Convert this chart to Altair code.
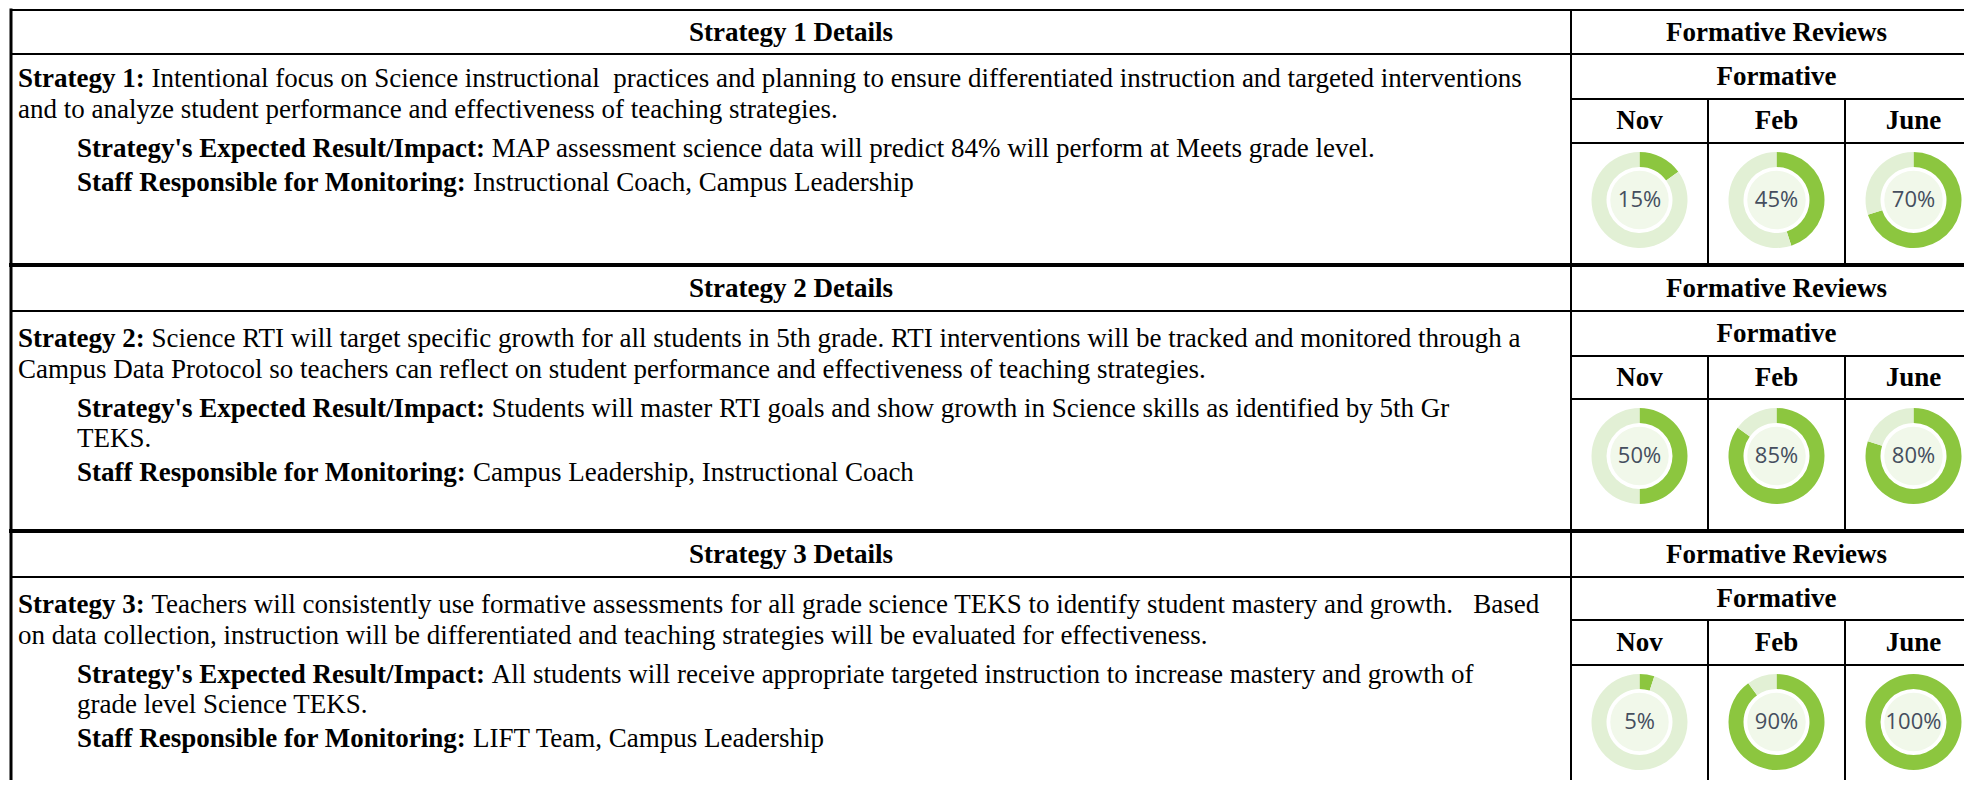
import math
import altair as alt
import pandas as pd

# ---------------- data ----------------
section_titles = ["Strategy 1 Details", "Strategy 2 Details", "Strategy 3 Details"]
review_title = "Formative Reviews"
review_sub = "Formative"
months = ["Nov", "Feb", "June"]

strategy_labels = ["Strategy 1:", "Strategy 2:", "Strategy 3:"]
strategy_text = [
    ["Intentional focus on Science instructional\u00a0 practices and planning to ensure differentiated instruction and targeted interventions",
     "and to analyze student performance and effectiveness of teaching strategies."],
    ["Science RTI will target specific growth for all students in 5th grade. RTI interventions will be tracked and monitored through a",
     "Campus Data Protocol so teachers can reflect on student performance and effectiveness of teaching strategies."],
    ["Teachers will consistently use formative assessments for all grade science TEKS to identify student mastery and growth.\u00a0\u00a0 Based",
     "on data collection, instruction will be differentiated and teaching strategies will be evaluated for effectiveness."],
]
expected_label = "Strategy's Expected Result/Impact:"
expected_text = [
    ["MAP assessment science data will predict 84% will perform at Meets grade level."],
    ["Students will master RTI goals and show growth in Science skills as identified by 5th Gr", "TEKS."],
    ["All students will receive appropriate targeted instruction to increase mastery and growth of", "grade level Science TEKS."],
]
staff_label = "Staff Responsible for Monitoring:"
staff_text = [
    "Instructional Coach, Campus Leadership",
    "Campus Leadership, Instructional Coach",
    "LIFT Team, Campus Leadership",
]
review_pct = [[15, 45, 70], [50, 85, 80], [5, 90, 100]]

# ---------------- layout ----------------
W, H = 1956, 772
OFF = 8
FS = 27
SERIF = "Liberation Serif"
LEFT, DIV, RIGHT = 11, 1571, 1982
COLS = [1571, 1708, 1845, 1982]
sec_top = [10, 265, 531]
sec_bottom = [265, 531, 800]
hdr_bottom = [54, 311, 577]
sub_bottom = [99, 356, 620]
mon_bottom = [143, 399, 665]
first_line_gap = [25, 28, 28]
TEXT_X, INDENT_X = 18, 77

# Times New Roman Bold advance widths (per 1000 em) for label glyphs
BOLD_W = {"S": 556, "t": 333, "r": 444, "a": 500, "e": 444, "g": 500, "y": 500, " ": 250,
          "1": 500, "2": 500, "3": 500, ":": 333, "'": 278, "E": 667, "x": 500, "p": 556,
          "c": 444, "d": 556, "R": 722, "s": 389, "u": 556, "l": 278, "/": 278, "I": 389,
          "m": 833, "f": 333, "o": 500, "n": 556, "M": 944, "i": 278, "b": 556}


def bold_width(s):
    return sum(BOLD_W.get(c, 500) for c in s) / 1000.0 * FS


# rules
rule_rows = []
for i in range(3):
    rule_rows.append(dict(x=LEFT, x2=RIGHT, y=sec_top[i], y2=sec_top[i], w=2 if i == 0 else 4))
    rule_rows.append(dict(x=LEFT, x2=RIGHT, y=hdr_bottom[i], y2=hdr_bottom[i], w=2))
    rule_rows.append(dict(x=DIV, x2=RIGHT, y=sub_bottom[i], y2=sub_bottom[i], w=2))
    rule_rows.append(dict(x=DIV, x2=RIGHT, y=mon_bottom[i], y2=mon_bottom[i], w=2))
    for cx in COLS[1:3]:
        rule_rows.append(dict(x=cx, x2=cx, y=sub_bottom[i], y2=sec_bottom[i], w=2))
rule_rows.append(dict(x=LEFT, x2=LEFT, y=sec_top[0], y2=sec_bottom[2], w=3))
rule_rows.append(dict(x=DIV, x2=DIV, y=sec_top[0], y2=sec_bottom[2], w=2))
rules_df = pd.DataFrame(rule_rows)

head_rows = []
bold_rows = []
reg_rows = []
center_rows = []
arc_rows = []
for i in range(3):
    head_rows.append(dict(text=section_titles[i], x=(LEFT + DIV) / 2, y=(sec_top[i] + hdr_bottom[i]) / 2 + 1))
    head_rows.append(dict(text=review_title, x=(DIV + RIGHT) / 2, y=(sec_top[i] + hdr_bottom[i]) / 2 + 1))
    head_rows.append(dict(text=review_sub, x=(DIV + RIGHT) / 2, y=(hdr_bottom[i] + sub_bottom[i]) / 2))
    for j, m in enumerate(months):
        head_rows.append(dict(text=m, x=(COLS[j] + COLS[j + 1]) / 2, y=(sub_bottom[i] + mon_bottom[i]) / 2))

    y = hdr_bottom[i] + first_line_gap[i]
    bold_rows.append(dict(text=strategy_labels[i], x=TEXT_X, y=y))
    reg_rows.append(dict(text=strategy_text[i][0], x=TEXT_X + bold_width(strategy_labels[i] + " "), y=y))
    for ln in strategy_text[i][1:]:
        y += 31
        reg_rows.append(dict(text=ln, x=TEXT_X, y=y))
    y += 39
    bold_rows.append(dict(text=expected_label, x=INDENT_X, y=y))
    reg_rows.append(dict(text=expected_text[i][0], x=INDENT_X + bold_width(expected_label + " "), y=y))
    for ln in expected_text[i][1:]:
        y += 30
        reg_rows.append(dict(text=ln, x=INDENT_X, y=y))
    y += 34
    bold_rows.append(dict(text=staff_label, x=INDENT_X, y=y))
    reg_rows.append(dict(text=staff_text[i], x=INDENT_X + bold_width(staff_label + " "), y=y))

    for j in range(3):
        cx = (COLS[j] + COLS[j + 1]) / 2
        cy = mon_bottom[i] + 57
        v = review_pct[i][j]
        center_rows.append(dict(x=cx, y=cy, label=f"{v}%"))
        arc_rows.append(dict(x=cx, y=cy, t0=0, t1=v, part="done"))
        arc_rows.append(dict(x=cx, y=cy, t0=v, t1=100, part="rest"))

head_df = pd.DataFrame(head_rows)
bold_df = pd.DataFrame(bold_rows)
reg_df = pd.DataFrame(reg_rows)
center_df = pd.DataFrame(center_rows)
arc_df = pd.DataFrame(arc_rows)

xs = alt.Scale(domain=[OFF, OFF + W], range=[0, W])
ys = alt.Scale(domain=[OFF, OFF + H], range=[0, H])


def pos():
    return dict(x=alt.X("x:Q", scale=xs, axis=None), y=alt.Y("y:Q", scale=ys, axis=None))


rules = alt.Chart(rules_df).mark_rule(color="black", clip=True, strokeCap="square").encode(
    x=alt.X("x:Q", scale=xs, axis=None), x2="x2:Q",
    y=alt.Y("y:Q", scale=ys, axis=None), y2="y2:Q",
    strokeWidth=alt.StrokeWidth("w:Q", scale=None),
)

heads = alt.Chart(head_df).mark_text(font=SERIF, fontSize=FS, fontWeight="bold", color="black",
                                     align="center", baseline="middle", clip=True).encode(
    text="text:N", **pos())
bolds = alt.Chart(bold_df).mark_text(font=SERIF, fontSize=FS, fontWeight="bold", color="black",
                                     align="left", baseline="middle", clip=True).encode(
    text="text:N", **pos())
regs = alt.Chart(reg_df).mark_text(font=SERIF, fontSize=FS, color="black",
                                   align="left", baseline="middle", clip=True).encode(
    text="text:N", **pos())

inner = alt.Chart(center_df).mark_circle(size=math.pi * 33 * 33, color="#f1f8ea", opacity=1,
                                         clip=True).encode(**pos())
arcs = alt.Chart(arc_df).mark_arc(radius=48, radius2=33, clip=True).encode(
    theta=alt.Theta("t0:Q", scale=alt.Scale(domain=[0, 100], range=[0, 2 * math.pi]), stack=None),
    theta2="t1:Q",
    color=alt.Color("part:N", scale=alt.Scale(domain=["done", "rest"], range=["#8cc63f", "#e2f0d5"]),
                    legend=None),
    **pos(),
)
labels = alt.Chart(center_df).mark_text(font="Open Sans", fontSize=22, color="#454e5e",
                                        align="center", baseline="middle", clip=True).encode(
    text="label:N", **pos())

chart = alt.layer(rules, heads, bolds, regs, inner, arcs, labels).properties(
    width=W, height=H, padding=0, autosize=alt.AutoSizeParams(type="none"),
    background="white",
).configure_view(strokeWidth=0)

chart.save("out.html", embed_options={"renderer": "svg", "actions": False})
